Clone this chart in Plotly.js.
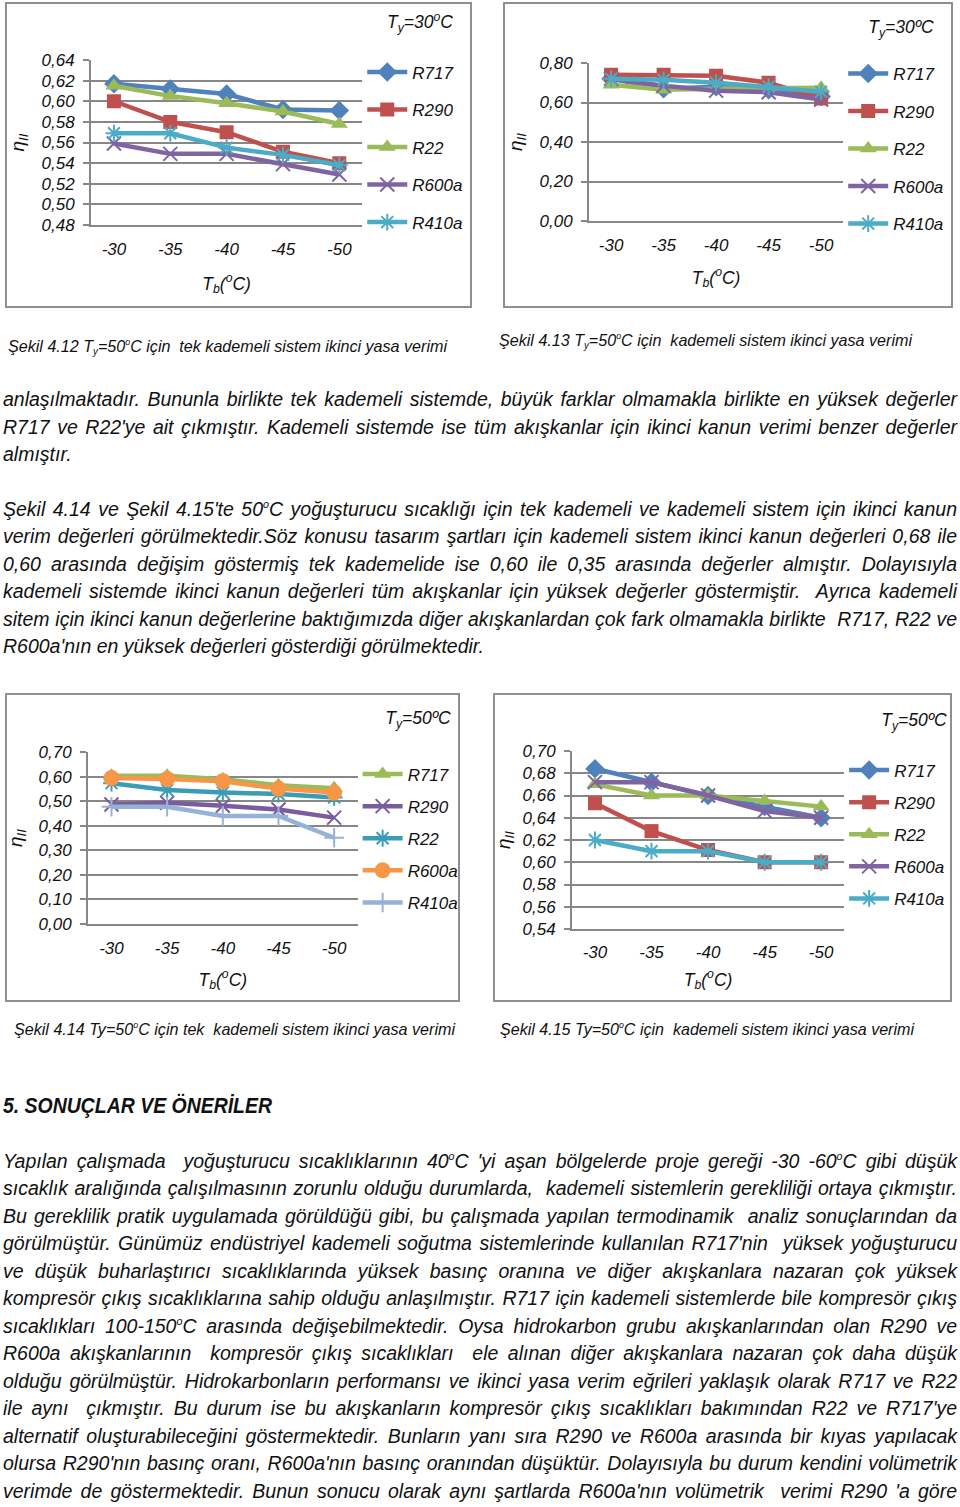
<!DOCTYPE html>
<html>
<head>
<meta charset="utf-8">
<script src="https://cdn.plot.ly/plotly-3.0.1.min.js"></script>
<style>
  html, body { margin:0; padding:0; background:#fff; }
  body { width:960px; height:1507px; position:relative; overflow:hidden;
         font-family:"Liberation Sans Narrow","Arial Narrow","Liberation Sans",sans-serif; font-style:italic; color:#111; }
  .chart { position:absolute; }
  .frame { position:absolute; border:2px solid #8f8f8f; box-sizing:border-box; pointer-events:none; }
  .ln { position:absolute; white-space:nowrap; overflow:visible; }
  .ln span { display:inline-block; transform-origin:0 50%; white-space:nowrap; }
  .body { font-size:19.5px; line-height:27px; height:27px; }
  .cap { font-size:17px; line-height:24px; height:24px; }
  .head { font-size:22px; line-height:30px; height:30px; font-weight:bold; }
  sup.d { font-size:0.55em; vertical-align:0.75em; line-height:0; }
  sub.s { font-size:0.6em; vertical-align:-0.25em; line-height:0; }
</style>
</head>
<body>
<div id="c1" class="chart" style="left:5px;top:2px;width:467px;height:306px"></div>
<div class="frame" style="left:5px;top:2px;width:467px;height:306px"></div>
<div id="c2" class="chart" style="left:503px;top:2px;width:450px;height:306px"></div>
<div class="frame" style="left:503px;top:2px;width:450px;height:306px"></div>
<div id="c3" class="chart" style="left:5px;top:693px;width:455px;height:309px"></div>
<div class="frame" style="left:5px;top:693px;width:455px;height:309px"></div>
<div id="c4" class="chart" style="left:493px;top:693px;width:459px;height:309px"></div>
<div class="frame" style="left:493px;top:693px;width:459px;height:309px"></div>
<div id="txt"></div>
<script>
// ---------- chart data ----------
const categories = ['-30', '-35', '-40', '-45', '-50'];
const refrigerants = ['R717', 'R290', 'R22', 'R600a', 'R410a'];

// Şekil 4.12 (tek kademeli, Ty=30°C)
const s412_R717  = [0.617, 0.612, 0.607, 0.592, 0.591];
const s412_R290  = [0.600, 0.580, 0.570, 0.551, 0.540];
const s412_R22   = [0.615, 0.605, 0.598, 0.590, 0.578];
const s412_R600a = [0.559, 0.549, 0.549, 0.539, 0.529];
const s412_R410a = [0.569, 0.569, 0.555, 0.548, 0.538];

// Şekil 4.13 (kademeli, Ty=30°C)
const s413_R717  = [0.720, 0.670, 0.680, 0.665, 0.630];
const s413_R290  = [0.740, 0.740, 0.735, 0.700, 0.620];
const s413_R22   = [0.690, 0.665, 0.670, 0.670, 0.675];
const s413_R600a = [0.720, 0.685, 0.660, 0.652, 0.615];
const s413_R410a = [0.720, 0.715, 0.700, 0.680, 0.655];

// Şekil 4.14 (tek kademeli, Ty=50°C)
const s414_R717  = [0.603, 0.603, 0.589, 0.565, 0.552];
const s414_R290  = [0.486, 0.493, 0.481, 0.466, 0.433];
const s414_R22   = [0.573, 0.545, 0.535, 0.529, 0.515];
const s414_R600a = [0.594, 0.590, 0.581, 0.551, 0.535];
const s414_R410a = [0.477, 0.477, 0.440, 0.440, 0.351];

// Şekil 4.15 (kademeli, Ty=50°C)
const s415_R717  = [0.684, 0.672, 0.660, 0.650, 0.640];
const s415_R290  = [0.653, 0.628, 0.611, 0.600, 0.600];
const s415_R22   = [0.670, 0.660, 0.660, 0.655, 0.650];
const s415_R600a = [0.672, 0.672, 0.660, 0.646, 0.640];
const s415_R410a = [0.620, 0.610, 0.610, 0.600, 0.600];

const yTicks412 = [0.48, 0.64, 0.02];
const yTicks413 = [0.00, 0.80, 0.20];
const yTicks414 = [0.00, 0.70, 0.10];
const yTicks415 = [0.54, 0.70, 0.02];

// ---------- styles ----------
const FONT = '"Liberation Sans Narrow","Arial Narrow","Liberation Sans",sans-serif';
const styleA = [ // charts 4.12, 4.13, 4.15
  {color:'#4F81BD', symbol:'diamond', size:15},
  {color:'#C0504D', symbol:'square', size:14},
  {color:'#9BBB59', symbol:'triangle-up', size:15},
  {color:'#8064A2', symbol:'x-thin', size:14, thin:true},
  {color:'#4BACC6', symbol:'asterisk', size:14, thin:true}
];
const styleB = [ // chart 4.14
  {color:'#9BBB59', symbol:'triangle-up', size:15},
  {color:'#7A5C9E', symbol:'x-thin', size:14, thin:true},
  {color:'#3A9DB5', symbol:'asterisk', size:14, thin:true},
  {color:'#F79646', symbol:'circle', size:16},
  {color:'#95B3D7', symbol:'cross-thin', size:14, thin:true}
];

function traces(series, styles) {
  return series.map((ys, i) => {
    const st = styles[i];
    const marker = {symbol: st.symbol, size: st.size, color: st.color};
    if (st.thin) marker.line = {color: st.color, width: 2};
    return {
      type:'scatter', mode:'lines+markers', x: categories, y: ys,
      name: refrigerants[i], legendgroup: refrigerants[i],
      line:{color: st.color, width:4.5}, marker
    };
  });
}

function layout(o) {
  const grid = '#878787';
  return {
    width:o.w, height:o.h, margin:o.m,
    paper_bgcolor:'rgba(0,0,0,0)', plot_bgcolor:'#fff',
    separators:', ', showlegend:true,
    font:{family:FONT, size:17, color:'#111', style:'italic'},
    title:{text:o.title, xref:'container', yref:'container', x:o.tx, y:o.ty,
           xanchor:'center', yanchor:'middle', font:{family:FONT, size:17.5, style:'italic', color:'#111'}},
    xaxis:{type:'category', showgrid:false, showline:true, linecolor:grid, linewidth:2,
           ticks:'', ticklabelstandoff:o.xstand, tickfont:{size:17},
           title:{text:'T<sub>b</sub>(<sup>o</sup>C)', standoff:o.xtstand, font:{size:17.5}}},
    yaxis:{range:[o.y[0], o.y[1]], tick0:o.y[0], dtick:o.y[2], tickformat:'.2f',
           showgrid:true, gridcolor:grid, gridwidth:2, zeroline:false,
           showline:true, linecolor:grid, linewidth:2,
           ticks:'outside', ticklen:6, tickwidth:2, tickcolor:grid, ticklabelstandoff:o.ystand,
           tickfont:{size:17},
           title:{text:'η<sub>II</sub>', standoff:o.ytstand, font:{size:19}}},
    legend:{xref:'container', yref:'container', x:o.lx, y:o.ly, xanchor:'left', yanchor:'top',
            traceorder:'grouped', tracegroupgap:o.gap, font:{size:17}, maxheight:290,
            bgcolor:'rgba(0,0,0,0)', itemwidth:40}
  };
}
const cfg = {staticPlot:true, displayModeBar:false};

Plotly.newPlot('c1', traces([s412_R717, s412_R290, s412_R22, s412_R600a, s412_R410a], styleA),
  layout({w:467, h:306, m:{l:86, r:109, t:58, b:83}, y:yTicks412, title:'T<sub>y</sub>=30<sup>o</sup>C',
          tx:415/467, ty:1-20/306, lx:0.765, ly:1-52.5/306, gap:12.4, xstand:8, xtstand:19, ystand:5, ytstand:12}), cfg);
Plotly.newPlot('c2', traces([s413_R717, s413_R290, s413_R22, s413_R600a, s413_R410a], styleA),
  layout({w:450, h:306, m:{l:86, r:104, t:61, b:87}, y:yTicks413, title:'T<sub>y</sub>=30ºC',
          tx:398/450, ty:1-25/306, lx:0.756, ly:1-54/306, gap:12.4, xstand:8, xtstand:17, ystand:5, ytstand:12}), cfg);
Plotly.newPlot('c3', traces([s414_R717, s414_R290, s414_R22, s414_R600a, s414_R410a], styleB),
  layout({w:455, h:309, m:{l:83, r:100, t:59, b:78}, y:yTicks414, title:'T<sub>y</sub>=50ºC',
          tx:413/455, ty:1-25/309, lx:0.775, ly:1-63.5/309, gap:7, xstand:8, xtstand:16, ystand:5, ytstand:12}), cfg);
Plotly.newPlot('c4', traces([s415_R717, s415_R290, s415_R22, s415_R600a, s415_R410a], styleA),
  layout({w:459, h:309, m:{l:79, r:105, t:58, b:73}, y:yTicks415, title:'T<sub>y</sub>=50ºC',
          tx:421/459, ty:1-27/309, lx:0.765, ly:1-59.5/309, gap:7, xstand:7, xtstand:12, ystand:5, ytstand:12}), cfg);

// ---------- document text ----------
const D = '<sup class="d">o</sup>';
// [class, left, right, baseline, html, mode]  mode: j=justify, l=left, f=fit
const textLines = [
  ['cap', 8, 447, 353, 'Şekil 4.12 T<sub class="s">y</sub>=50'+D+'C için&nbsp; tek kademeli sistem ikinci yasa verimi', 'f'],
  ['cap', 499, 912, 347, 'Şekil 4.13 T<sub class="s">y</sub>=50'+D+'C için&nbsp; kademeli sistem ikinci yasa verimi', 'f'],
  ['body', 3, 957, 406.5, 'anlaşılmaktadır. Bununla birlikte tek kademeli sistemde, büyük farklar olmamakla birlikte en yüksek değerler', 'j'],
  ['body', 3, 957, 434, "R717 ve R22'ye ait çıkmıştır. Kademeli sistemde ise tüm akışkanlar için ikinci kanun verimi benzer değerler", 'j'],
  ['body', 3, 957, 461.5, 'almıştır.', 'l'],
  ['body', 3, 957, 516, "Şekil 4.14 ve Şekil 4.15'te 50"+D+"C yoğuşturucu sıcaklığı için tek kademeli ve kademeli sistem için ikinci kanun", 'j'],
  ['body', 3, 957, 543.5, 'verim değerleri görülmektedir.Söz konusu tasarım şartları için kademeli sistem ikinci kanun değerleri 0,68 ile', 'j'],
  ['body', 3, 957, 571, '0,60 arasında değişim göstermiş tek kademelide ise 0,60 ile 0,35 arasında değerler almıştır. Dolayısıyla', 'j'],
  ['body', 3, 957, 598.5, 'kademeli sistemde ikinci kanun değerleri tüm akışkanlar için yüksek değerler göstermiştir.&nbsp; Ayrıca kademeli', 'j'],
  ['body', 3, 957, 626, 'sitem için ikinci kanun değerlerine baktığımızda diğer akışkanlardan çok fark olmamakla birlikte&nbsp; R717, R22 ve', 'j'],
  ['body', 3, 957, 653.5, "R600a'nın en yüksek değerleri gösterdiği görülmektedir.", 'l'],
  ['cap', 14, 455, 1036, 'Şekil 4.14 Ty=50'+D+'C için tek&nbsp; kademeli sistem ikinci yasa verimi', 'f'],
  ['cap', 500, 914, 1036, 'Şekil 4.15 Ty=50'+D+'C için&nbsp; kademeli sistem ikinci yasa verimi', 'f'],
  ['head', 3, 272, 1114, '5. SONUÇLAR VE ÖNERİLER', 'f'],
  ['body', 3, 957, 1168, "Yapılan çalışmada&nbsp; yoğuşturucu sıcaklıklarının 40"+D+"C 'yi aşan bölgelerde proje gereği -30 -60"+D+"C gibi düşük", 'j'],
  ['body', 3, 957, 1195.5, 'sıcaklık aralığında çalışılmasının zorunlu olduğu durumlarda,&nbsp; kademeli sistemlerin gerekliliği ortaya çıkmıştır.', 'j'],
  ['body', 3, 957, 1223, 'Bu gereklilik pratik uygulamada görüldüğü gibi, bu çalışmada yapılan termodinamik&nbsp; analiz sonuçlarından da', 'j'],
  ['body', 3, 957, 1250.5, "görülmüştür. Günümüz endüstriyel kademeli soğutma sistemlerinde kullanılan R717'nin&nbsp; yüksek yoğuşturucu", 'j'],
  ['body', 3, 957, 1278, 've düşük buharlaştırıcı sıcaklıklarında yüksek basınç oranına ve diğer akışkanlara nazaran çok yüksek', 'j'],
  ['body', 3, 957, 1305.5, 'kompresör çıkış sıcaklıklarına sahip olduğu anlaşılmıştır. R717 için kademeli sistemlerde bile kompresör çıkış', 'j'],
  ['body', 3, 957, 1333, 'sıcaklıkları 100-150'+D+'C arasında değişebilmektedir. Oysa hidrokarbon grubu akışkanlarından olan R290 ve', 'j'],
  ['body', 3, 957, 1360.5, 'R600a akışkanlarının&nbsp; kompresör çıkış sıcaklıkları&nbsp; ele alınan diğer akışkanlara nazaran çok daha düşük', 'j'],
  ['body', 3, 957, 1388, 'olduğu görülmüştür. Hidrokarbonların performansı ve ikinci yasa verim eğrileri yaklaşık olarak R717 ve R22', 'j'],
  ['body', 3, 957, 1415.5, "ile aynı&nbsp; çıkmıştır. Bu durum ise bu akışkanların kompresör çıkış sıcaklıkları bakımından R22 ve R717'ye", 'j'],
  ['body', 3, 957, 1443, 'alternatif oluşturabileceğini göstermektedir. Bunların yanı sıra R290 ve R600a arasında bir kıyas yapılacak', 'j'],
  ['body', 3, 957, 1470.5, "olursa R290'nın basınç oranı, R600a'nın basınç oranından düşüktür. Dolayısıyla bu durum kendini volümetrik", 'j'],
  ['body', 3, 957, 1498, "verimde de göstermektedir. Bunun sonucu olarak aynı şartlarda R600a'nın volümetrik&nbsp; verimi R290 'a göre", 'j']
];

const host = document.getElementById('txt');
const els = textLines.map(([cls, l, r, base, html, mode]) => {
  const d = document.createElement('div');
  d.className = 'ln ' + cls;
  const fs = cls === 'body' ? 19.5 : cls === 'cap' ? 17 : 22;
  const lh = cls === 'body' ? 27 : cls === 'cap' ? 24 : 30;
  const bo = (lh - 1.117 * fs) / 2 + 0.905 * fs;
  d.style.left = l + 'px';
  d.style.top = (base - bo) + 'px';
  d.style.width = (r - l) + 'px';
  const s = document.createElement('span');
  s.innerHTML = html;
  d.appendChild(s);
  host.appendChild(d);
  return {s, target: r - l, mode, html};
});

function fit() {
  let scales = [];
  els.forEach(e => {
    const w = e.s.getBoundingClientRect().width;
    e.w = w;
    if (e.mode === 'j') scales.push(Math.min(1, e.target / w));
  });
  scales.sort((a, b) => a - b);
  const med = scales[Math.floor(scales.length / 2)];
  els.forEach(e => {
    if (e.mode === 'f') {
      e.s.style.transform = 'scaleX(' + (e.target / e.w) + ')';
    } else if (e.mode === 'j') {
      if (e.w > e.target) {
        e.s.style.transform = 'scaleX(' + (e.target / e.w) + ')';
      } else {
        const n = (e.s.textContent.match(/[ \u00a0]/g) || []).length;
        if (n) e.s.style.wordSpacing = ((e.target - e.w) / n) + 'px';
      }
    } else {
      e.s.style.transform = 'scaleX(' + med + ')';
    }
  });
}
if (document.fonts && document.fonts.ready) document.fonts.ready.then(fit); else fit();
</script>
</body>
</html>
